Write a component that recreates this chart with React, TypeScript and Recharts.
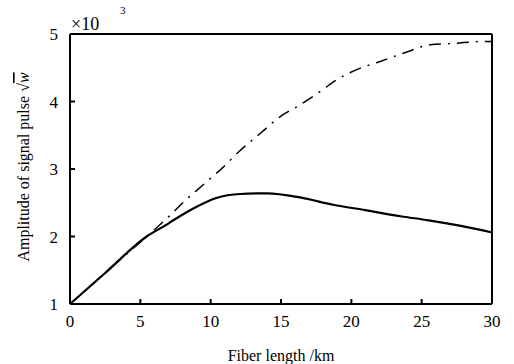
import { LineChart, Line, XAxis, YAxis } from 'recharts';

// solid curve (lower)
const solidKm = [0, 2.5, 5.45, 6.9, 7.35, 9, 10.4, 12.1, 14, 16.35, 18.7, 21, 23.5, 25.5, 27.7, 30];
const solidAmp = [1.0, 1.46, 2.0, 2.18, 2.24, 2.44, 2.57, 2.63, 2.64, 2.58, 2.47, 2.39, 2.3, 2.24, 2.16, 2.06];

// dash-dot curve (upper)
const dashKm = [0, 2.5, 5.45, 6.9, 8.17, 9.6, 10.8, 12.08, 13.6, 14.9, 16.35, 17.8, 18.95, 20.6, 22, 23.9, 25.6, 27.2, 29.4, 30];
const dashAmp = [1.0, 1.46, 2.0, 2.27, 2.53, 2.79, 3.01, 3.27, 3.54, 3.77, 3.95, 4.15, 4.32, 4.49, 4.59, 4.73, 4.84, 4.86, 4.89, 4.89];

const xTicks = [0, 5, 10, 15, 20, 25, 30];
const yTicks = [1, 2, 3, 4, 5];

const FONT = '"Liberation Serif", "Times New Roman", serif';
const serif = { fontFamily: FONT };

const solidData = solidKm.map((km, i) => ({ km, amp: solidAmp[i] }));
const dashData = dashKm.map((km, i) => ({ km, amp: dashAmp[i] }));

const YLabel = () => (
  <g>
    <text
      x={25}
      y={167}
      fill="#000"
      fontSize={16}
      style={serif}
      textAnchor="middle"
      dominantBaseline="middle"
      transform="rotate(-90, 25, 167)"
    >
      <tspan>Amplitude of signal pulse  √</tspan>
      <tspan fontStyle="italic" textDecoration="overline">w</tspan>
    </text>
    <text x={71} y={30} fill="#000" fontSize={18} style={serif}>
      ×10
    </text>
    <text x={120} y={14} fill="#000" fontSize={11} style={serif}>
      3
    </text>
  </g>
);

export default function App() {
  const tickStyle = { fill: '#000', fontSize: 17, style: serif };
  return (
    <div style={{ position: 'absolute', left: 0, top: 0, width: 514, height: 364, background: '#fff', fontFamily: FONT }}>
      <LineChart
        width={514}
        height={364}
        margin={{ top: 33, right: 21, bottom: 0, left: 0 }}
        style={serif}
      >
        <XAxis
          xAxisId="b"
          type="number"
          dataKey="km"
          domain={[0, 30]}
          ticks={xTicks}
          interval={0}
          height={60}
          stroke="#000"
          strokeWidth={2}
          tickSize={-5}
          tickMargin={16}
          tick={tickStyle}
          label={{ value: 'Fiber length /km', position: 'insideBottom', offset: 3, fill: '#000', fontSize: 16, style: serif }}
        />
        <XAxis
          xAxisId="t"
          orientation="top"
          type="number"
          dataKey="km"
          domain={[0, 30]}
          ticks={xTicks}
          interval={0}
          height={1}
          stroke="#000"
          strokeWidth={2}
          tickSize={-5}
          tick={false}
        />
        <YAxis
          yAxisId="l"
          type="number"
          domain={[1, 5]}
          ticks={yTicks}
          interval={0}
          width={70}
          stroke="#000"
          strokeWidth={2}
          tickSize={-5}
          tickMargin={17}
          tick={tickStyle}
          label={<YLabel />}
        />
        <YAxis
          yAxisId="r"
          orientation="right"
          type="number"
          domain={[1, 5]}
          ticks={yTicks}
          interval={0}
          width={1}
          stroke="#000"
          strokeWidth={2}
          tickSize={-5}
          tick={false}
        />
        <Line
          xAxisId="b"
          yAxisId="l"
          data={dashData}
          dataKey="amp"
          type="monotone"
          stroke="#000"
          strokeWidth={1.5}
          strokeDasharray="12 7 2 7"
          dot={false}
          isAnimationActive={false}
        />
        <Line
          xAxisId="b"
          yAxisId="l"
          data={solidData}
          dataKey="amp"
          type="monotone"
          stroke="#000"
          strokeWidth={2.2}
          dot={false}
          isAnimationActive={false}
        />
      </LineChart>
    </div>
  );
}
